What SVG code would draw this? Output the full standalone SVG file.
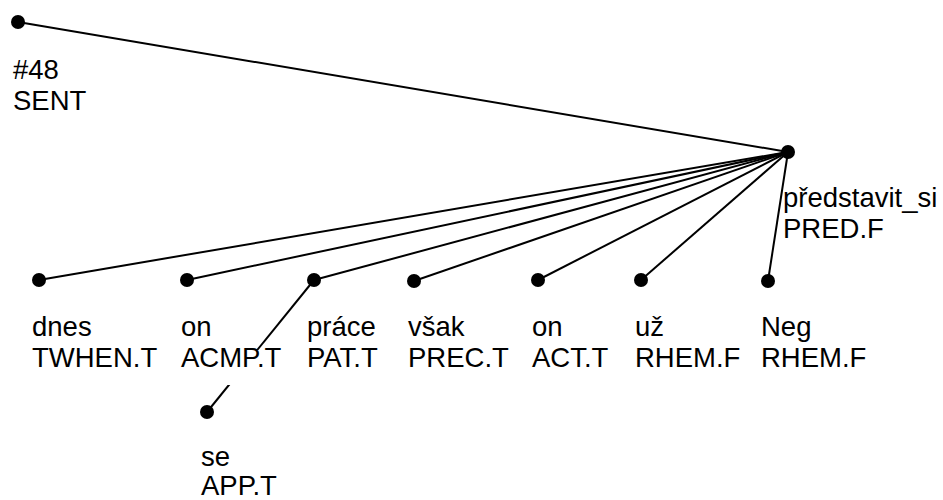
<svg xmlns="http://www.w3.org/2000/svg" width="943" height="500" viewBox="0 0 943 500">
  <style>
    .edge { stroke: #000; stroke-width: 2; fill: none; }
    .dot { fill: #000; }
    .lbl { font-family: "Liberation Sans", Arial, sans-serif; font-size: 27.5px; fill: #000; }
  </style>
  <rect width="943" height="500" fill="#fff"/>

  <g id="connectors">
    <line class="edge" x1="18" y1="22" x2="788" y2="152"/>
    <line class="edge" x1="788" y1="152" x2="39" y2="280"/>
    <line class="edge" x1="788" y1="152" x2="187" y2="280"/>
    <line class="edge" x1="788" y1="152" x2="314" y2="280"/>
    <line class="edge" x1="788" y1="152" x2="414" y2="281"/>
    <line class="edge" x1="788" y1="152" x2="538" y2="280"/>
    <line class="edge" x1="788" y1="152" x2="641" y2="280"/>
    <line class="edge" x1="788" y1="152" x2="768" y2="281"/>
    <line class="edge" x1="314" y1="280" x2="207" y2="412"/>
  </g>

  <g id="n-root">
    <circle class="dot" cx="18" cy="22" r="7"/>
    <text class="lbl" x="13" y="79">#48</text>
    <text class="lbl" x="13" y="110">SENT</text>
  </g>
  <g id="n-predstavit">
    <circle class="dot" cx="788" cy="152" r="7"/>
    <text class="lbl" x="783" y="207">představit_si</text>
    <text class="lbl" x="783" y="238">PRED.F</text>
  </g>
  <g id="n-dnes">
    <circle class="dot" cx="39" cy="280" r="7"/>
    <text class="lbl" x="32" y="336">dnes</text>
    <text class="lbl" x="32" y="367">TWHEN.T</text>
  </g>
  <g id="n-on-acmp">
    <circle class="dot" cx="187" cy="280" r="7"/>
    <!-- label backing hides the práce–se edge where it crosses this label -->
    <rect x="180" y="350" width="110" height="35" fill="#fff"/>
    <text class="lbl" x="181" y="336">on</text>
    <text class="lbl" x="181" y="367">ACMP.T</text>
  </g>
  <g id="n-prace">
    <circle class="dot" cx="314" cy="280" r="7"/>
    <text class="lbl" x="307" y="336">práce</text>
    <text class="lbl" x="307" y="367">PAT.T</text>
  </g>
  <g id="n-vsak">
    <circle class="dot" cx="414" cy="281" r="7"/>
    <text class="lbl" x="408" y="336">však</text>
    <text class="lbl" x="408" y="367">PREC.T</text>
  </g>
  <g id="n-on-act">
    <circle class="dot" cx="538" cy="280" r="7"/>
    <text class="lbl" x="532" y="336">on</text>
    <text class="lbl" x="532" y="367">ACT.T</text>
  </g>
  <g id="n-uz">
    <circle class="dot" cx="641" cy="280" r="7"/>
    <text class="lbl" x="635" y="336">už</text>
    <text class="lbl" x="635" y="367">RHEM.F</text>
  </g>
  <g id="n-neg">
    <circle class="dot" cx="768" cy="281" r="7"/>
    <text class="lbl" x="761" y="336">Neg</text>
    <text class="lbl" x="761" y="367">RHEM.F</text>
  </g>
  <g id="n-se">
    <circle class="dot" cx="207" cy="412" r="7"/>
    <text class="lbl" x="201" y="466">se</text>
    <text class="lbl" x="201" y="495">APP.T</text>
  </g>
</svg>
